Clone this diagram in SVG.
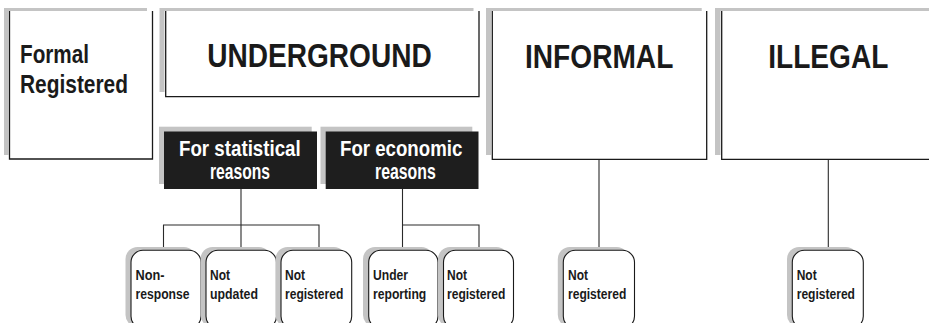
<svg xmlns="http://www.w3.org/2000/svg" width="929" height="323" viewBox="0 0 929 323">
<style>
.sh{fill:#c4c4c4;stroke:none}
.box{fill:#fff;stroke:none}
.bd{fill:none;stroke:#1a1a1a;stroke-width:1.3}
.dark{fill:#1e1e1e;stroke:none}
.sm{fill:#fff;stroke:#1a1a1a;stroke-width:1.1}
.con{fill:none;stroke:#2a2a2a;stroke-width:1.1}
text{font-family:"Liberation Sans",Arial,sans-serif;font-weight:bold;fill:#1a1a1a}
.big{font-size:32.5px}
.mid{font-size:25px}
.wt{font-size:22px;fill:#fff}
.st{font-size:15px}
</style>
<rect width="929" height="323" fill="#fff"/>

<g id="connectors">
<path class="con" d="M241 189V225M163.5 250V225H319V250M241 225V250"/>
<path class="con" d="M402.5 189V225H479V250M402.5 225V250"/>
<path class="con" d="M599 159.5V250"/>
<path class="con" d="M828.3 159.5V250"/>
</g>

<g id="formal">
<rect class="sh" x="4" y="8" width="143" height="147"/>
<rect class="box" x="8.5" y="11" width="144" height="148"/>
<path class="bd" d="M9.5 11V159H152.5V11"/>
<text class="mid" x="20" y="62.7" textLength="69" lengthAdjust="spacingAndGlyphs">Formal</text>
<text class="mid" x="20" y="92.7" textLength="108" lengthAdjust="spacingAndGlyphs">Registered</text>
</g>

<g id="underground">
<rect class="sh" x="159.5" y="8" width="314" height="84"/>
<rect class="box" x="164.5" y="11" width="315" height="85.7"/>
<path class="bd" d="M165.7 11V96.7H479V11"/>
<text class="big" x="207.3" y="67" textLength="224.4" lengthAdjust="spacingAndGlyphs">UNDERGROUND</text>
</g>

<g id="informal">
<rect class="sh" x="486" y="8" width="215.7" height="147"/>
<rect class="box" x="491" y="11" width="216" height="148.3"/>
<path class="bd" d="M492.3 11V159.3H706.7V11"/>
<text class="big" x="525" y="67.5" textLength="148.3" lengthAdjust="spacingAndGlyphs">INFORMAL</text>
</g>

<g id="illegal">
<rect class="sh" x="715" y="8" width="220" height="147"/>
<rect class="box" x="720.5" y="11" width="220" height="148.3"/>
<path class="bd" d="M721.7 11V159.3H935"/>
<text class="big" x="768.3" y="67.5" textLength="120" lengthAdjust="spacingAndGlyphs">ILLEGAL</text>
</g>

<g id="statistical">
<rect class="sh" x="159" y="126.7" width="152.7" height="57.3"/>
<rect class="dark" x="164" y="131.5" width="153" height="57.5"/>
<text class="wt" x="179" y="155.7" textLength="121.7" lengthAdjust="spacingAndGlyphs">For statistical</text>
<text class="wt" x="210" y="179" textLength="60" lengthAdjust="spacingAndGlyphs">reasons</text>
</g>

<g id="economic">
<rect class="sh" x="320.5" y="126.7" width="151.8" height="57.3"/>
<rect class="dark" x="325.7" y="131.5" width="152.8" height="57.5"/>
<text class="wt" x="340" y="155.7" textLength="122.3" lengthAdjust="spacingAndGlyphs">For economic</text>
<text class="wt" x="375" y="179" textLength="60.7" lengthAdjust="spacingAndGlyphs">reasons</text>
</g>

<g id="nonresponse">
<rect class="sh" x="125.5" y="247" width="70.5" height="80" rx="12"/>
<rect class="sm" x="131" y="250.3" width="70" height="78" rx="12"/>
<text class="st" x="135.5" y="279.5" textLength="29" lengthAdjust="spacingAndGlyphs">Non-</text>
<text class="st" x="135.5" y="298.5" textLength="54" lengthAdjust="spacingAndGlyphs">response</text>
</g>

<g id="notupdated">
<rect class="sh" x="200.5" y="247" width="70.5" height="80" rx="12"/>
<rect class="sm" x="206" y="250.3" width="70.5" height="78" rx="12"/>
<text class="st" x="210" y="279.5" textLength="20" lengthAdjust="spacingAndGlyphs">Not</text>
<text class="st" x="210" y="298.5" textLength="48" lengthAdjust="spacingAndGlyphs">updated</text>
</g>

<g id="notregistered1">
<rect class="sh" x="275.5" y="247" width="70.5" height="80" rx="12"/>
<rect class="sm" x="281" y="250.3" width="70.7" height="78" rx="12"/>
<text class="st" x="285" y="279.5" textLength="20" lengthAdjust="spacingAndGlyphs">Not</text>
<text class="st" x="285" y="298.5" textLength="58.3" lengthAdjust="spacingAndGlyphs">registered</text>
</g>

<g id="underreporting">
<rect class="sh" x="363" y="247" width="70.5" height="80" rx="12"/>
<rect class="sm" x="368.7" y="250.3" width="69.3" height="78" rx="12"/>
<text class="st" x="373" y="279.5" textLength="35" lengthAdjust="spacingAndGlyphs">Under</text>
<text class="st" x="373" y="298.5" textLength="53.3" lengthAdjust="spacingAndGlyphs">reporting</text>
</g>

<g id="notregistered2">
<rect class="sh" x="438" y="247" width="70.5" height="80" rx="12"/>
<rect class="sm" x="443.5" y="250.3" width="70" height="78" rx="12"/>
<text class="st" x="447" y="279.5" textLength="20" lengthAdjust="spacingAndGlyphs">Not</text>
<text class="st" x="447" y="298.5" textLength="58.3" lengthAdjust="spacingAndGlyphs">registered</text>
</g>

<g id="notregistered3">
<rect class="sh" x="557.8" y="247" width="71" height="80" rx="12"/>
<rect class="sm" x="563.3" y="250.3" width="71.2" height="78" rx="12"/>
<text class="st" x="568" y="279.5" textLength="20" lengthAdjust="spacingAndGlyphs">Not</text>
<text class="st" x="568" y="298.5" textLength="58.3" lengthAdjust="spacingAndGlyphs">registered</text>
</g>

<g id="notregistered4">
<rect class="sh" x="787" y="247" width="71" height="80" rx="12"/>
<rect class="sm" x="792.3" y="250.3" width="71" height="78" rx="12"/>
<text class="st" x="796.7" y="279.5" textLength="20" lengthAdjust="spacingAndGlyphs">Not</text>
<text class="st" x="796.7" y="298.5" textLength="58.3" lengthAdjust="spacingAndGlyphs">registered</text>
</g>
</svg>
